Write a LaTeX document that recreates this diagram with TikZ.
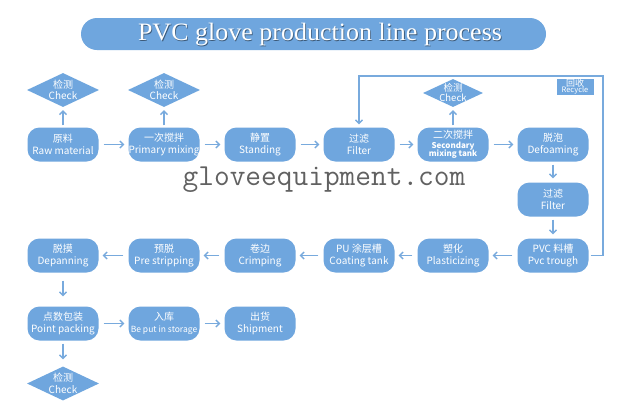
\documentclass[tikz,border=0pt]{standalone}
\usepackage{fontspec}
\setmainfont{Liberation Serif}
\newfontfamily\cjk{Noto Sans CJK SC}
\usetikzlibrary{arrows.meta,shapes.geometric}
\definecolor{boxblue}{HTML}{6FA6DE}
\definecolor{lineblue}{HTML}{78AADD}
\begin{document}
\begin{tikzpicture}[x=1pt,y=-1pt,
  proc/.style={fill=boxblue, rounded corners=12pt, minimum width=71pt, minimum height=34pt,
    inner sep=0pt, text=white, align=center, font=\cjk\fontsize{10}{12.5}\selectfont},
  chk/.style={diamond, fill=boxblue, minimum width=72pt, minimum height=34pt, inner sep=0pt},
  chksmall/.style={chk, minimum width=60pt, minimum height=28pt},
  chktext/.style={text=white, align=center, inner sep=0pt, font=\cjk\fontsize{10}{11.5}\selectfont},
  flow/.style={draw=lineblue, line width=1.3pt, -{Straight Barb[length=3.5pt,width=7pt]}},
  hgap/.style={shorten <=5pt, shorten >=4pt},
  titlefont/.style={font=\fontsize{25}{25}\selectfont, inner sep=0pt, xscale=1.04},
  rectext/.style={text=white, inner sep=0pt},
]
\useasboundingbox (0,0) rectangle (632,410);
\fill[white] (0,0) rectangle (632,410);

% title
\node[fill=boxblue, rounded corners=16pt, minimum width=465pt, minimum height=32pt, inner sep=0pt] (title) at (313.5,34) {};
\node[titlefont, text=black!45!boxblue] (titleshadow) at (320.8,35.8) {PVC glove production line process};
\node[titlefont, text=white] (titletext) at (320,35) {PVC glove production line process};

% row 1
\node[proc] (a1) at (63,144.5) {原料\\Raw material};
\node[proc] (a2) at (164,144.5) {一次搅拌\\Primary mixing};
\node[proc] (a3) at (260,144.5) {静置\\Standing};
\node[proc] (a4) at (359,144.5) {过滤\\Filter};
\node[proc] (a5) at (453,144.5) {二次搅拌\\[-3pt]{\fontsize{8}{8}\selectfont\bfseries Secondary}\\[-4pt]{\fontsize{8}{8}\selectfont\bfseries mixing tank}};
\node[proc] (a6) at (553,144.5) {脱泡\\Defoaming};
\node[proc] (f2) at (553,199.5) {过滤\\Filter};

% row 3
\node[proc] (r6) at (553,255.5) {PVC 料槽\\Pvc trough};
\node[proc] (r5) at (453,255.5) {塑化\\Plasticizing};
\node[proc] (r4) at (359,255.5) {PU 涂层槽\\Coating tank};
\node[proc] (r3) at (260,255.5) {卷边\\Crimping};
\node[proc] (r2) at (164,255.5) {预脱\\Pre stripping};
\node[proc] (r1) at (63,255.5) {脱摸\\Depanning};

% row 4
\node[proc] (p1) at (63,323.5) {点数包装\\Point packing};
\node[proc] (p2) at (164,323.5) {入库\\{\fontsize{8.5}{10}\selectfont Be put in storage}};
\node[proc] (p3) at (260,323.5) {出货\\Shipment};

% checks
\node[chk] (c1) at (63,90) {};
\node[chktext] (c1t) at (c1) {检测\\Check};
\node[chk] (c2) at (164,90) {};
\node[chktext] (c2t) at (c2) {检测\\Check};
\node[chksmall] (c3) at (453,93) {};
\node[chktext, font=\cjk\fontsize{9.5}{10}\selectfont] (c3t) at (c3) {检测\\Check};
\node[chk] (c4) at (63,383.5) {};
\node[chktext] (c4t) at (c4) {检测\\Check};

% recycle label
\node[fill=boxblue, minimum width=37pt, minimum height=16pt, inner sep=0pt] (rec) at (575,86.5) {};
\node[rectext, font=\cjk\fontsize{9}{9}\selectfont] (rect1) at (575,82.6) {回收};
\node[rectext, font=\cjk\fontsize{7.5}{7.5}\selectfont] (rect2) at (575,90.8) {Recycle};

% watermark
\node[font=\ttfamily\fontsize{30.5}{30.5}\selectfont, text=black!62, anchor=base, inner sep=0pt] (wm) at (324,185) {gloveequipment.com};

% connectors row 1
\draw[flow, hgap] (a1) -- (a2);
\draw[flow, hgap] (a2) -- (a3);
\draw[flow, hgap] (a3) -- (a4);
\draw[flow, hgap] (a4) -- (a5);
\draw[flow, hgap] (a5) -- (a6);
\draw[flow, shorten <=3pt, shorten >=4pt] (a6) -- (f2);
\draw[flow, shorten <=3pt, shorten >=4pt] (f2) -- (r6);

% row 3
\draw[flow, hgap] (r6) -- (r5);
\draw[flow, hgap] (r5) -- (r4);
\draw[flow, hgap] (r4) -- (r3);
\draw[flow, hgap] (r3) -- (r2);
\draw[flow, hgap] (r2) -- (r1);
\draw[flow, shorten <=8pt, shorten >=10pt] (r1) -- (p1);

% row 4
\draw[flow, hgap] (p1) -- (p2);
\draw[flow, hgap] (p2) -- (p3);
\draw[flow, shorten <=3pt, shorten >=7pt] (p1) -- (c4);

% checks up
\draw[flow, shorten <=2pt, shorten >=3pt] (a1) -- (c1);
\draw[flow, shorten <=2pt, shorten >=3pt] (a2) -- (c2);
\draw[flow, shorten <=2pt, shorten >=3pt] (a5) -- (c3);

% recycle loop
\coordinate (loopR) at (603,76);
\draw[flow, shorten <=2pt, shorten >=3pt] (r6.east) -| (loopR) -| (a4.north);
\end{tikzpicture}
\end{document}
